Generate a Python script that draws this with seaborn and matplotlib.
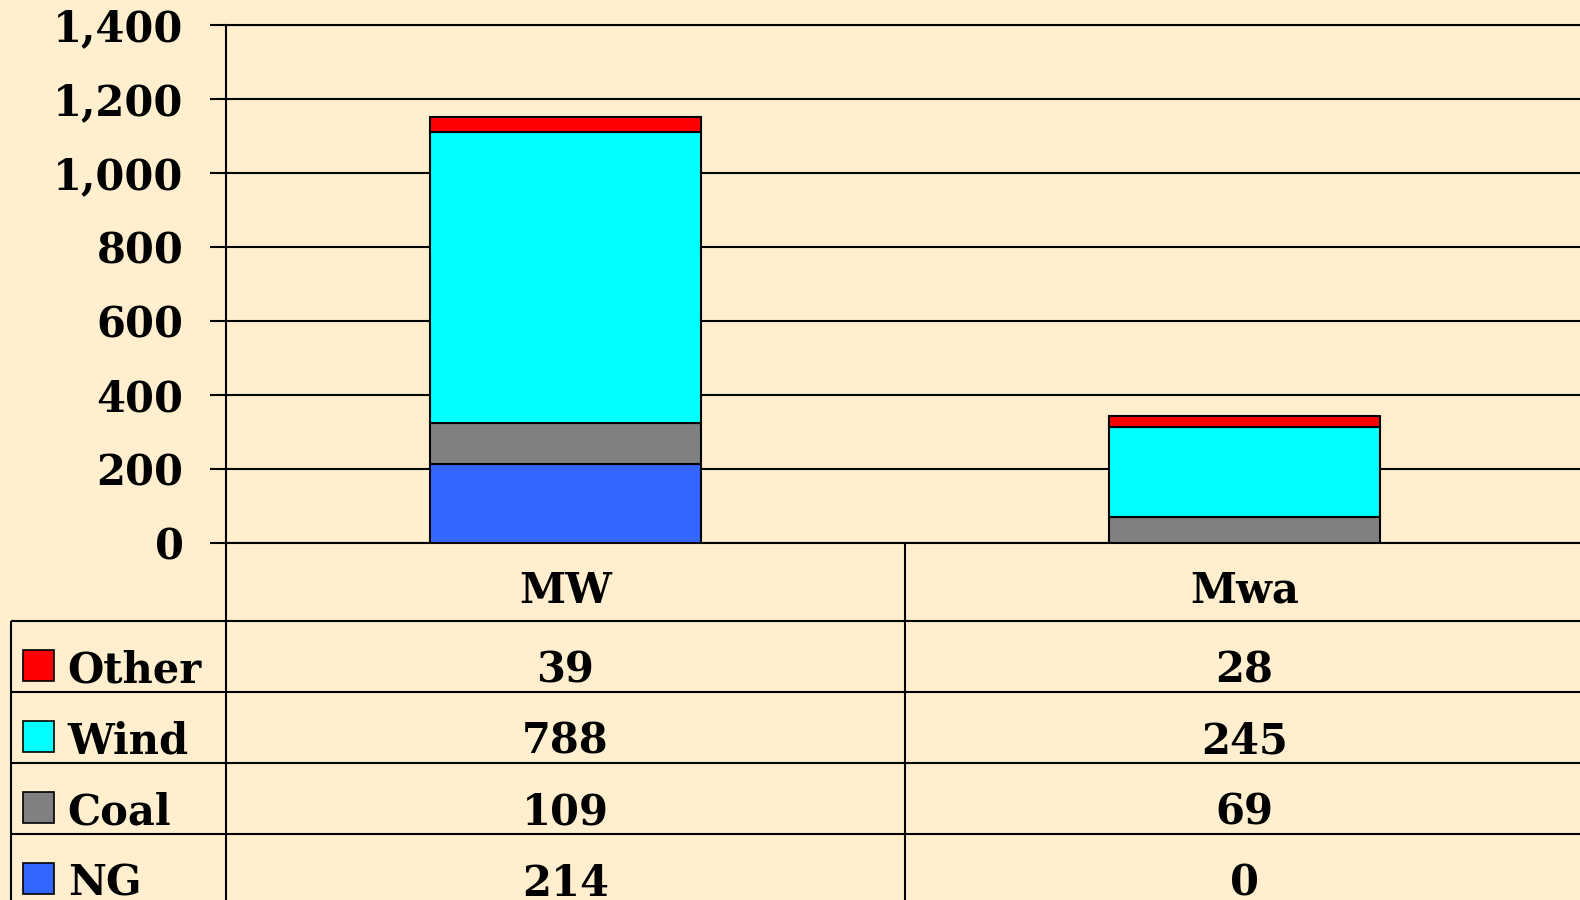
# Stacked capacity bars (MW vs Mwa) with an Excel-style data table underneath

import numpy as np
import pandas as pd
import matplotlib.pyplot as plt
import seaborn as sns
from matplotlib.patches import Rectangle

# data
units = ['MW', 'Mwa']
ng = [214, 0]
coal = [109, 69]
wind = [788, 245]
other = [39, 28]

stack_order = ['NG', 'Coal', 'Wind', 'Other']   # bottom to top
table_rows = ['Other', 'Wind', 'Coal', 'NG']    # top to bottom in the table
y_ticks = [0, 200, 400, 600, 800, 1000, 1200, 1400]

colors = {'NG': '#3366FF', 'Coal': '#808080', 'Wind': '#00FFFF', 'Other': '#FF0000'}
bg = '#FFEFCE'

df = pd.DataFrame({'unit': units, 'NG': ng, 'Coal': coal, 'Wind': wind, 'Other': other})

sns.set_theme(style='white', rc={'figure.facecolor': bg, 'axes.facecolor': bg,
                                 'text.color': 'black', 'ytick.color': 'black',
                                 'ytick.labelcolor': 'black'})
plt.rcParams['font.family'] = ['DejaVu Serif']
plt.rcParams['font.weight'] = 'bold'
fs = 30

W, H = 1580, 900
fig = plt.figure(figsize=(W / 100, H / 100), dpi=100)

# chart area
ax = fig.add_axes([226 / W, 357 / H, 1358 / W, 518 / H])
bottom = np.zeros(len(units))
for s in stack_order:
    sns.barplot(data=df, x='unit', y=s, color=colors[s], width=0.4, saturation=1,
                errorbar=None, bottom=bottom, edgecolor='black', linewidth=1.5,
                zorder=3, ax=ax)
    bottom = bottom + df[s].values

ax.set_xlim(-0.5, 1.5)
ax.set_ylim(0, 1400)
ax.set_yticks(y_ticks)
ax.set_yticklabels([f'{v:,}' for v in y_ticks], fontsize=fs, fontweight='bold',
                   color='black')
ax.set_xticks([])
ax.set_xlabel('')
ax.set_ylabel('')
ax.grid(axis='y', color='black', linewidth=1.5)
ax.set_axisbelow(True)
ax.tick_params(axis='y', left=True, length=11.5, width=1.5, color='black', pad=19)
for side in ['left', 'top', 'bottom']:
    ax.spines[side].set_color('black')
    ax.spines[side].set_linewidth(1.5)
ax.spines['right'].set_visible(False)

# data table under the chart
x0 = -0.817
tx = fig.add_axes([10.7 / W, 0, (1584 - 10.7) / W, 357 / H])
tx.set_xlim(x0, 1.5)
tx.set_ylim(3.928, -1.1)
tx.axis('off')
tx.patch.set_alpha(0)

tx.hlines([0, 1, 2, 3], x0, 1.5, color='black', linewidth=1.5, clip_on=False)
tx.vlines([-0.5, 0.5], -1.1, 3.928, color='black', linewidth=1.5, clip_on=False)
tx.vlines(x0, 0, 3.928, color='black', linewidth=1.5, clip_on=False)

for i, u in enumerate(units):
    tx.text(i, -0.255, u, ha='center', va='baseline', fontsize=fs, fontweight='bold',
            color='black')

values = {'NG': ng, 'Coal': coal, 'Wind': wind, 'Other': other}
for r, name in enumerate(table_rows):
    tx.add_patch(Rectangle((x0 + 0.018, r + 0.41), 0.0457, 0.437,
                           facecolor=colors[name], edgecolor='black', linewidth=1.2,
                           clip_on=False))
    tx.text(x0 + 0.084, r + 0.87, name, ha='left', va='baseline',
            fontsize=fs, fontweight='bold', color='black')
    for i in range(len(units)):
        tx.text(i, r + 0.87, f'{values[name][i]}', ha='center', va='baseline',
                fontsize=fs, fontweight='bold', color='black')

fig.savefig('out.png', dpi=100, facecolor=bg)
